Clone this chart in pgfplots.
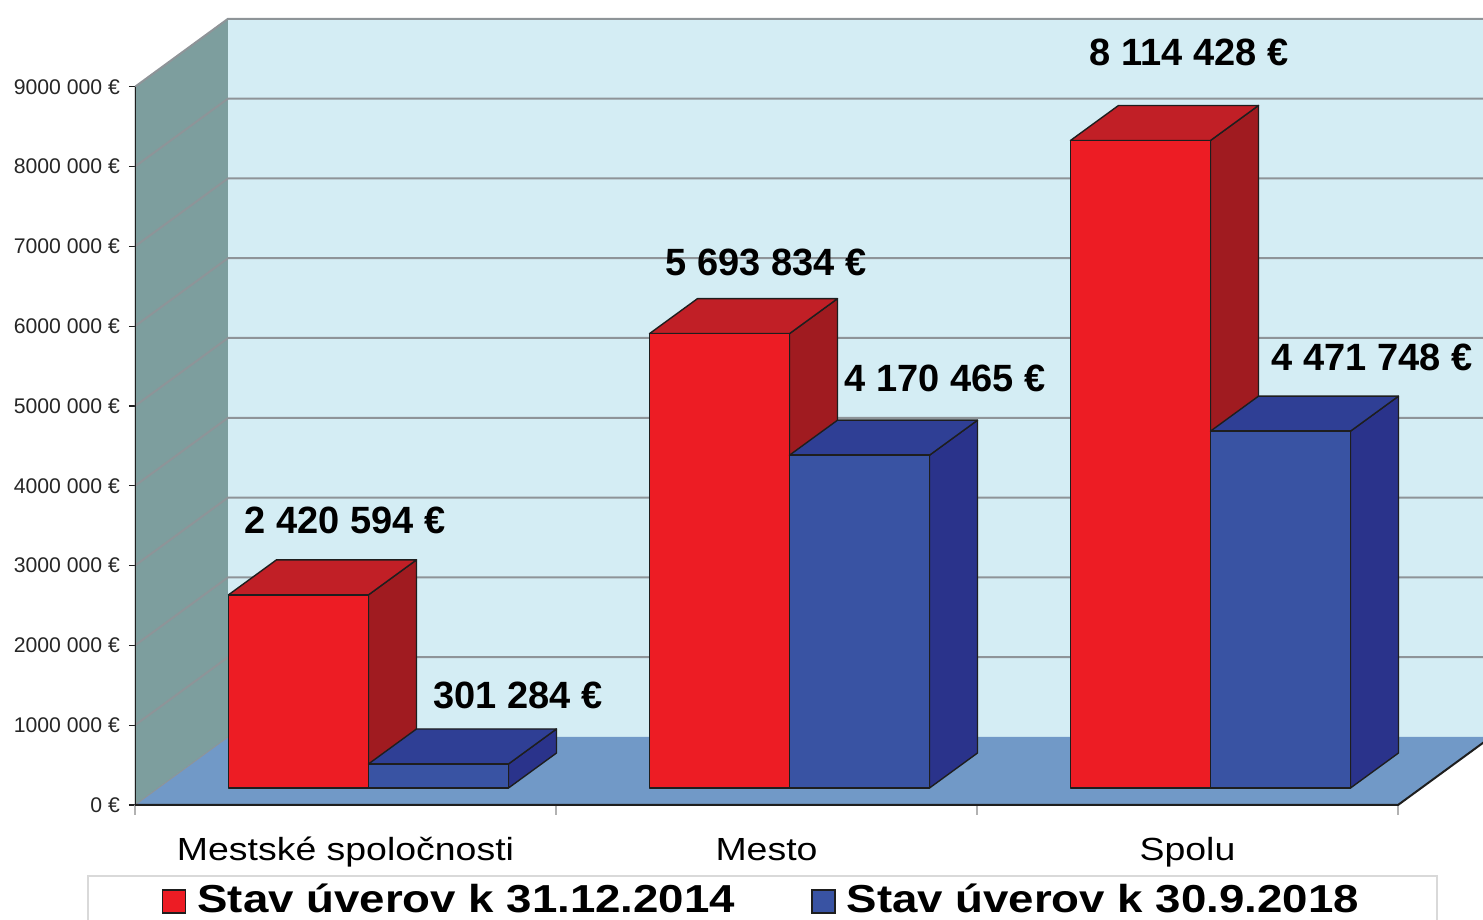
\documentclass[border=0pt]{standalone}
\usepackage{pgfplots}
\pgfplotsset{compat=1.18}
\usepackage{pgfplotstable}
\usepackage{fontspec}
\setmainfont{Liberation Sans}
\newfontfamily\widesans[FakeStretch=1.17]{Liberation Sans}
\definecolor{wallB}{HTML}{D4EDF4}
\definecolor{wallS}{HTML}{7D9E9E}
\definecolor{floorC}{HTML}{7199C7}
\definecolor{gridC}{HTML}{8E9498}
\definecolor{redF}{HTML}{ED1C24}
\definecolor{redT}{HTML}{C11F26}
\definecolor{redS}{HTML}{A01B20}
\definecolor{bluF}{HTML}{3953A3}
\definecolor{bluT}{HTML}{2F3F95}
\definecolor{bluS}{HTML}{2A338B}
\definecolor{edgeC}{HTML}{1E1E1E}
\tikzset{bp/.style={xshift=11.5pt,yshift=8.5pt}}
\pgfplotsset{face/.style={forget plot, draw=edgeC, line width=0.7pt, line join=round}}
\newcommand\valfont{\fontsize{19}{22}\selectfont\bfseries}

\pgfplotstableread[col sep=comma]{
x,v,label,dx,dy
0,2420594,2 420 594 €,-11.75,37.4
1,5693834,5 693 834 €,-11.75,35.8
2,8114428,8 114 428 €,-10.75,44.25
}\redtab
\pgfplotstableread[col sep=comma]{
x,v,label,dx,dy
0,301284,301 284 €,74.75,34.5
1,4170465,4 170 465 €,77.75,38.5
2,4471748,4 471 748 €,80.75,37.1
}\blutab

\begin{document}
\begin{tikzpicture}
\begin{axis}[
  width=674pt, height=460pt, scale only axis,
  xmin=-0.5, xmax=2.7019, ymin=-1441103, ymax=10087719,
  enlargelimits=false, clip=true,
  axis x line=middle, axis y line=left,
  axis line style={draw=none},
  hide obscured x ticks=false, hide obscured y ticks=false,
  xtick={0,1,2}, xticklabels={Mestské spoločnosti, Mesto, Spolu},
  major x tick style={draw=none},
  extra x ticks={-0.5,0.5,1.5,2.5}, extra x tick labels={},
  extra x tick style={major x tick style={draw=gray!60, line width=0.6pt}, major tick length=5pt},
  ytick={0,1000000,2000000,3000000,4000000,5000000,6000000,7000000,8000000,9000000},
  yticklabels={0 €,1000 000 €,2000 000 €,3000 000 €,4000 000 €,5000 000 €,6000 000 €,7000 000 €,8000 000 €,9000 000 €},
  scaled y ticks=false,
  tick align=outside, major tick length=3pt,
  major y tick style={draw=edgeC, line width=0.6pt},
  xticklabel style={font=\widesans\fontsize{16}{19}\selectfont, anchor=base, yshift=-25pt},
  yticklabel style={font=\fontsize{10.6}{12}\selectfont, anchor=east, text=black!85, xshift=-1pt},
  legend style={at={(axis cs:0.9905,-877193)}, anchor=north, legend columns=2,
    draw=black!15, line width=0.8pt, font=\widesans\fontsize{19.5}{23}\selectfont\bfseries,
    inner xsep=37pt, inner ysep=2pt,
    /tikz/every odd column/.append style={column sep=3.5pt},
    /tikz/every even column/.append style={column sep=36pt}},
  legend image code/.code={\draw[#1] (0pt,-6.7pt) rectangle (11.5pt,4.8pt);},
]
% walls and floor
\addplot[forget plot, fill=wallS, draw=none] coordinates {(-0.5,0) (-0.5,9000000) (-0.279097,9852130) (-0.279097,852130)} -- cycle;
\addplot[forget plot, fill=wallB, draw=none] coordinates {(-0.279097,852130) (-0.279097,9852130) (2.8,9852130) (2.8,852130)} -- cycle;
\addplot[forget plot, fill=floorC, draw=none] coordinates {(-0.5,0) (2.5,0) (2.720903,852130) (-0.279097,852130)} -- cycle;
\addplot[forget plot, gridC, line width=0.5pt] coordinates {(-0.5,0) (-0.279097,852130)};
% grid lines
\addplot[forget plot, gridC, line width=1pt] coordinates {(-0.5,1000000) (-0.279097,1852130) (2.8,1852130)};
\addplot[forget plot, gridC, line width=1pt] coordinates {(-0.5,2000000) (-0.279097,2852130) (2.8,2852130)};
\addplot[forget plot, gridC, line width=1pt] coordinates {(-0.5,3000000) (-0.279097,3852130) (2.8,3852130)};
\addplot[forget plot, gridC, line width=1pt] coordinates {(-0.5,4000000) (-0.279097,4852130) (2.8,4852130)};
\addplot[forget plot, gridC, line width=1pt] coordinates {(-0.5,5000000) (-0.279097,5852130) (2.8,5852130)};
\addplot[forget plot, gridC, line width=1pt] coordinates {(-0.5,6000000) (-0.279097,6852130) (2.8,6852130)};
\addplot[forget plot, gridC, line width=1pt] coordinates {(-0.5,7000000) (-0.279097,7852130) (2.8,7852130)};
\addplot[forget plot, gridC, line width=1pt] coordinates {(-0.5,8000000) (-0.279097,8852130) (2.8,8852130)};
\addplot[forget plot, gridC, line width=1pt] coordinates {(-0.5,9000000) (-0.279097,9852130) (2.8,9852130)};
\addplot[forget plot, edgeC, line width=1pt] coordinates {(-0.5,9000000) (-0.5,0) (2.5,0) (2.720903,852130)};
% red bars
\addplot[face, fill=redS, bp] coordinates {(0,0) (0,2420594)} -- ++(24pt,17.5pt) -- ([shift={(24pt,17.5pt)}]0,0) -- cycle;
\addplot[face, fill=redS, bp] coordinates {(1,0) (1,5693834)} -- ++(24pt,17.5pt) -- ([shift={(24pt,17.5pt)}]1,0) -- cycle;
\addplot[face, fill=redS, bp] coordinates {(2,0) (2,8114428)} -- ++(24pt,17.5pt) -- ([shift={(24pt,17.5pt)}]2,0) -- cycle;
\addplot[face, fill=redT, bp] coordinates {(-0.33254,2420594) (0,2420594)} -- ++(24pt,17.5pt) -- ++(-70pt,0pt) -- cycle;
\addplot[face, fill=redT, bp] coordinates {(0.66746,5693834) (1,5693834)} -- ++(24pt,17.5pt) -- ++(-70pt,0pt) -- cycle;
\addplot[face, fill=redT, bp] coordinates {(1.66746,8114428) (2,8114428)} -- ++(24pt,17.5pt) -- ++(-70pt,0pt) -- cycle;
\addplot[face, ybar, bar width=0.33254, bar shift=-0.16627, fill=redF, bp,
  nodes near coords, point meta=explicit symbolic,
  visualization depends on={\thisrow{dx}\as\ldx},
  visualization depends on={\thisrow{dy}\as\ldy},
  every node near coord/.append style={font=\valfont, text=black, anchor=center, xshift=\ldx pt, yshift=\ldy pt}]
  table[x=x, y=v, meta=label] {\redtab};
% blue bars
\addplot[face, fill=bluS, bp] coordinates {(0.33254,0) (0.33254,301284)} -- ++(24pt,17.5pt) -- ([shift={(24pt,17.5pt)}]0.33254,0) -- cycle;
\addplot[face, fill=bluS, bp] coordinates {(1.33254,0) (1.33254,4170465)} -- ++(24pt,17.5pt) -- ([shift={(24pt,17.5pt)}]1.33254,0) -- cycle;
\addplot[face, fill=bluS, bp] coordinates {(2.33254,0) (2.33254,4471748)} -- ++(24pt,17.5pt) -- ([shift={(24pt,17.5pt)}]2.33254,0) -- cycle;
\addplot[face, fill=bluT, bp] coordinates {(0,301284) (0.33254,301284)} -- ++(24pt,17.5pt) -- ++(-70pt,0pt) -- cycle;
\addplot[face, fill=bluT, bp] coordinates {(1,4170465) (1.33254,4170465)} -- ++(24pt,17.5pt) -- ++(-70pt,0pt) -- cycle;
\addplot[face, fill=bluT, bp] coordinates {(2,4471748) (2.33254,4471748)} -- ++(24pt,17.5pt) -- ++(-70pt,0pt) -- cycle;
\addplot[face, ybar, bar width=0.33254, bar shift=0.16627, fill=bluF, bp,
  nodes near coords, point meta=explicit symbolic,
  visualization depends on={\thisrow{dx}\as\ldx},
  visualization depends on={\thisrow{dy}\as\ldy},
  every node near coord/.append style={font=\valfont, text=black, anchor=center, xshift=\ldx pt, yshift=\ldy pt}]
  table[x=x, y=v, meta=label] {\blutab};
% legend
\addlegendimage{fill=redF, draw=edgeC, line width=0.7pt}
\addlegendentry{Stav úverov k 31.12.2014}
\addlegendimage{fill=bluF, draw=edgeC, line width=0.7pt}
\addlegendentry{Stav úverov k 30.9.2018}
\end{axis}
\pgfresetboundingbox
\path[use as bounding box] ([xshift=-67.5pt]current axis.south west) rectangle (current axis.north east);
\end{tikzpicture}
\end{document}
